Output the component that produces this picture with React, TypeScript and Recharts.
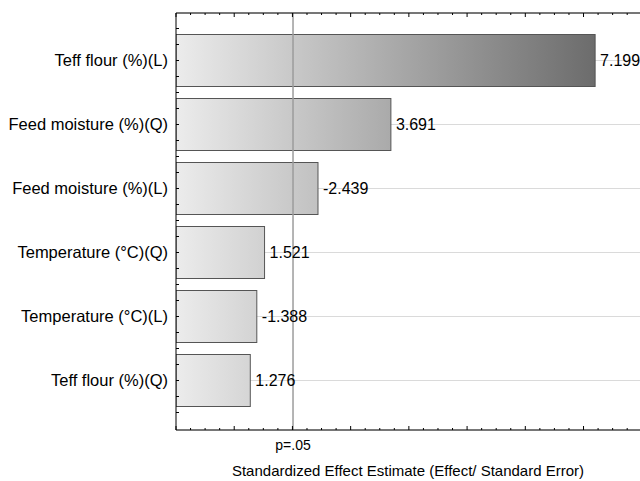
import React from "react";
import {
  BarChart,
  Bar,
  XAxis,
  YAxis,
  CartesianGrid,
  ReferenceLine,
  LabelList,
} from "recharts";

// Pareto chart of standardized effects
const factorNames: string[] = [
  "Teff flour (%)(L)",
  "Feed moisture (%)(Q)",
  "Feed moisture (%)(L)",
  "Temperature (°C)(Q)",
  "Temperature (°C)(L)",
  "Teff flour (%)(Q)",
];
const effectValues: number[] = [7.199, 3.691, -2.439, 1.521, -1.388, 1.276];

// critical t value for p = .05
const pCritical = 2.01;
const pLabel = "p=.05";
const xTitle = "Standardized Effect Estimate (Effect/ Standard Error)";

const xDomainMax = 7.97;
const xTicks: number[] = [
  0, 0.25, 0.5, 0.75, 1, 1.25, 1.5, 1.75, 2, 2.25, 2.5, 2.75, 3, 3.25, 3.5,
  3.75, 4, 4.25, 4.5, 4.75, 5, 5.25, 5.5, 5.75, 6, 6.25, 6.5, 6.75, 7, 7.25,
  7.5, 7.75,
];

const FONT = "'Liberation Sans', Arial, sans-serif";

const data = factorNames.map((name, i) => ({
  name,
  value: effectValues[i],
  abs: Math.abs(effectValues[i]),
}));

const maxAbs = Math.max(...data.map((d) => d.abs));

function shade(t: number): string {
  // light grey at the axis, dark grey at the largest effect
  const v = Math.round(236 - t * 128);
  const h = v.toString(16).padStart(2, "0");
  return `#${h}${h}${h}`;
}

function GradientBar(props: any) {
  const { x, y, width, height, index, payload } = props;
  const id = `effect-grad-${index}`;
  return (
    <g>
      <defs>
        <linearGradient id={id} x1="0" y1="0" x2="1" y2="0">
          <stop offset="0" stopColor="#ececec" />
          <stop offset="1" stopColor={shade(payload.abs / maxAbs)} />
        </linearGradient>
      </defs>
      <rect
        x={x}
        y={y}
        width={width}
        height={height}
        fill={`url(#${id})`}
        stroke="#555"
        strokeWidth={1}
      />
    </g>
  );
}

function LeftTick(props: any) {
  const { x, y, payload } = props;
  const ax = x + 8;
  return (
    <g>
      {[-32, -16, 0, 16, 32].map((d) => (
        <line key={d} x1={ax} x2={ax + 3} y1={y + d} y2={y + d} stroke="#000" />
      ))}
      <text
        x={x}
        y={y}
        dy={5}
        textAnchor="end"
        fontSize={16.5}
        fontFamily={FONT}
        fill="#000"
      >
        {payload.value}
      </text>
    </g>
  );
}

function RightTick(props: any) {
  const { x, y } = props;
  return <line x1={x - 3} x2={x} y1={y} y2={y} stroke="#000" />;
}

function TopTick(props: any) {
  const { x, y, payload } = props;
  const major = Number.isInteger(payload.value);
  return <line x1={x} x2={x} y1={y} y2={y + (major ? 4 : 2)} stroke="#000" />;
}

function BottomTick(props: any) {
  const { x, y, payload } = props;
  if (payload.value === pCritical) {
    return (
      <text
        x={x}
        y={y + 20}
        textAnchor="middle"
        fontSize={14}
        fontFamily={FONT}
        fill="#000"
      >
        {pLabel}
      </text>
    );
  }
  const major = Number.isInteger(payload.value);
  return <line x1={x} x2={x} y1={y} y2={y - (major ? 4 : 2)} stroke="#000" />;
}

export default function App() {
  return (
    <div
      style={{
        position: "absolute",
        left: 0,
        top: 0,
        width: 640,
        height: 481,
        background: "#fff",
        fontFamily: FONT,
      }}
    >
      <BarChart
        width={640}
        height={481}
        data={data}
        layout="vertical"
        barSize={52}
        margin={{ top: 0, right: 0, bottom: 0, left: 0 }}
      >
        <CartesianGrid horizontal vertical={false} stroke="#dadada" />
        <XAxis
          type="number"
          dataKey="abs"
          domain={[0, xDomainMax]}
          ticks={[...xTicks, pCritical]}
          interval={0}
          allowDataOverflow
          height={51}
          tickSize={0}
          tickMargin={0}
          tickLine={false}
          tick={<BottomTick />}
          axisLine={{ stroke: "#000" }}
          label={{
            value: xTitle,
            position: "insideBottom",
            offset: 5,
            fontSize: 15,
            fontFamily: FONT,
            fill: "#000",
          }}
        />
        <XAxis
          xAxisId="top"
          orientation="top"
          type="number"
          domain={[0, xDomainMax]}
          ticks={xTicks}
          interval={0}
          allowDataOverflow
          height={13}
          tickSize={0}
          tickMargin={0}
          tickLine={false}
          tick={<TopTick />}
          axisLine={{ stroke: "#000" }}
        />
        <YAxis
          type="category"
          dataKey="name"
          width={176}
          padding={{ top: 15.5, bottom: 17.5 }}
          tickSize={0}
          tickMargin={8}
          tickLine={false}
          tick={<LeftTick />}
          interval={0}
          axisLine={{ stroke: "#000" }}
        />
        <YAxis
          yAxisId="right"
          orientation="right"
          type="category"
          dataKey="name"
          width={0}
          padding={{ top: 15.5, bottom: 17.5 }}
          tickSize={0}
          tickMargin={0}
          tickLine={false}
          tick={<RightTick />}
          interval={0}
          axisLine={{ stroke: "#000" }}
        />
        <Bar
          dataKey="abs"
          shape={<GradientBar />}
          isAnimationActive={false}
        >
          <LabelList
            dataKey="value"
            position="right"
            offset={5}
            formatter={(v: any) => Number(v).toFixed(3)}
            fontSize={16}
            fontFamily={FONT}
            fill="#000"
          />
        </Bar>
        <ReferenceLine x={pCritical} stroke="#9c9c9c" strokeWidth={1.5} />
      </BarChart>
    </div>
  );
}
